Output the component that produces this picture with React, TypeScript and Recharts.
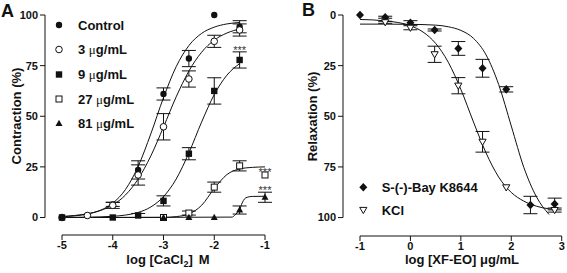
import React from 'react';
import { ComposedChart, Line, Scatter, XAxis, YAxis, ErrorBar, ReferenceLine } from 'recharts';

const FONT = '"Liberation Sans", Arial, Helvetica, sans-serif';
const INK = '#111';

// ---------- Panel A: contraction vs log [CaCl2] ----------
const doseA = [-5, -4.5, -4, -3.5, -3, -2.5, -2, -1.5];
const controlVals = [0, 1, 6.5, 23.5, 61, 78.5, 100, 94.2];
const controlErr = [null, null, 1, 4.5, 3, 4, null, 3];
const c3Vals = [0, 1, 6, 21, 44.8, 68.4, 87, 92.6];
const c3Err = [null, null, 1.5, 5, 6.5, 4, 3, 3];
const doseA9 = [-5, -4, -3.5, -3, -2.5, -2, -1.5];
const c9Vals = [0, 0, 1, 8.2, 31.5, 62.5, 77.8];
const c9Err = [null, null, 1, 2.5, 3, 6.5, 4];
const doseAHigh = [-3, -2.5, -2, -1.5, -1];
const c27Vals = [0, 2.2, 15, 25.5, 21];
const c27Err = [null, 1, 2.5, 2.5, null];
const c81Vals = [0, 0, 0, 3.7, 10];
const c81Err = [null, null, null, 2, 2.5];

// fitted curves
const fitXA = [-5, -4.75, -4.5, -4.25, -4, -3.75, -3.5, -3.25, -3, -2.75, -2.5, -2.25, -2, -1.75, -1.5];
const controlFit = [0.4, 0.8, 1.7, 3.5, 7.1, 13.8, 25.2, 41.3, 59.2, 74.5, 84.9, 90.9, 94, 95.6, 96.3];
const c3Fit = [0.5, 1, 1.85, 3.4, 6.2, 11.1, 19, 30.4, 44.7, 59.6, 72.3, 81.6, 87.6, 91.1, 93.1];
const c9Fit = [0.05, 0.1, 0.15, 0.3, 0.6, 1.2, 2.5, 5.2, 10.3, 19, 31.9, 47.1, 60.7, 70.3, 76];
const fitX27 = [-5, -3, -2.75, -2.5, -2.25, -2, -1.75, -1.5, -1.25, -1];
const c27Fit = [0, 0.05, 0.44, 1.75, 6, 14.3, 21.2, 24, 24.75, 25];
const fitX81 = [-5, -1.65, -1.6, -1.55, -1.5, -1.45, -1.4, -1.35, -1.25, -1];
const c81Fit = [0, 0.2, 1, 2.3, 3.9, 7.2, 9.3, 10, 10.4, 10.5];

const starXA = [-1.5, -1, -1];
const starYA = [84, 23.8, 14.9];

const ticksXA = [-5, -4, -3, -2, -1];
const ticksYA = [0, 25, 50, 75, 100];
const legendA = ['Control', '3 ', '9 ', '27 ', '81 '];

// ---------- Panel B: relaxation vs log [XF-EO] ----------
const bayX = [-1, -0.5, 0, 0.48, 0.95, 1.43, 1.9, 2.38, 2.86];
const bayVals = [0, 1.1, 3.8, 7.4, 16.5, 26.3, 36.7, 93.8, 93.3];
const bayErr = [null, 0.5, 1, 0.5, 3.4, 4.4, 1.3, 4.3, 2.9];
const kclX = [-0.5, 0, 0.48, 0.95, 1.43, 1.9, 2.86];
const kclVals = [3.6, 6.3, 19.4, 34.9, 62.6, 85.1, 96.3];
const kclErr = [0.5, 1, 4, 4, 5.1, null, 1];

const bayFitX = [-1, -0.5, 0, 0.5, 0.75, 1, 1.25, 1.5, 1.75, 2, 2.25, 2.5, 2.75];
const bayFit = [4.5, 4.5, 4.6, 5.0, 5.8, 7.6, 11.5, 19.7, 34.3, 54.8, 75.3, 89.8, 98.5];
const kclFitX = [-1, -0.5, 0, 0.25, 0.5, 0.75, 1, 1.25, 1.5, 1.75, 2, 2.25, 2.5, 2.75, 2.86];
const kclFit = [2.2, 2.9, 5.3, 8.4, 14, 23.3, 36.7, 52.8, 68.1, 80, 87.6, 91.9, 94.4, 95.7, 96];

const ticksXB = [-1, 0, 1, 2, 3];
const ticksYB = [0, 25, 50, 75, 100];
const legendB = ['S-(-)-Bay K8644', 'KCl'];

type Row = { x: number; y: number; e: number | null };
const rows = (xs: number[], ys: number[], es?: (number | null)[]): Row[] =>
  xs.map((x, i) => ({ x, y: ys[i], e: es ? es[i] : null }));

const Marker = ({ kind, cx, cy }: { kind: string; cx: number; cy: number }) => {
  switch (kind) {
    case 'circleFilled':
      return <circle cx={cx} cy={cy} r={3.2} fill={INK} />;
    case 'circleOpen':
      return <circle cx={cx} cy={cy} r={3.3} fill="#fff" stroke={INK} strokeWidth={1} />;
    case 'squareFilled':
      return <rect x={cx - 3.2} y={cy - 3.2} width={6.4} height={6.4} fill={INK} />;
    case 'squareOpen':
      return <rect x={cx - 3} y={cy - 3} width={6} height={6} fill="#fff" stroke={INK} strokeWidth={1} />;
    case 'triUp':
      return <polygon points={`${cx},${cy - 3.8} ${cx + 3.5},${cy + 2.6} ${cx - 3.5},${cy + 2.6}`} fill={INK} />;
    case 'diamond':
      return <polygon points={`${cx},${cy - 4.3} ${cx + 4},${cy} ${cx},${cy + 4.3} ${cx - 4},${cy}`} fill={INK} />;
    case 'triDown':
      return (
        <polygon
          points={`${cx - 3.6},${cy - 2.6} ${cx + 3.6},${cy - 2.6} ${cx},${cy + 3.6}`}
          fill="#fff"
          stroke={INK}
          strokeWidth={1}
        />
      );
    default:
      return null;
  }
};

const shape = (kind: string) => (p: any) => <Marker kind={kind} cx={p.cx} cy={p.cy} />;
const starShape = (p: any) => (
  <text x={p.cx} y={p.cy + 6.5} textAnchor="middle" fontSize={11} fill="#333" fontFamily={FONT}>
    ***
  </text>
);

const tickStyle = { fontSize: 11, fontWeight: 700, fill: INK, fontFamily: FONT };

const curve = (key: string, data: Row[]) => (
  <Line
    key={key}
    data={data}
    dataKey="y"
    type="monotone"
    dot={false}
    activeDot={false}
    stroke={INK}
    strokeWidth={1}
    isAnimationActive={false}
    legendType="none"
  />
);

const points = (key: string, data: Row[], kind: string) => (
  <Scatter key={key} data={data} dataKey="y" shape={shape(kind)} isAnimationActive={false} legendType="none">
    <ErrorBar dataKey="e" width={7} stroke={INK} strokeWidth={1} direction="y" isAnimationActive={false} />
  </Scatter>
);

// axis extents (value space) chosen so the offset axes sit where the reference draws them
const A_XMIN = -5.335;
const A_XMAX = -0.803;
const A_YMIN = -8.64;
const A_YMAX = 104.94;
const B_XMIN = -1.337;
const B_XMAX = 3.105;
const B_YMIN = -4.94;
const B_YMAX = 109.1;

const PanelA = () => (
  <ComposedChart width={280} height={273} margin={{ top: 5, right: 5, bottom: 0, left: 0 }}>
    <XAxis
      type="number"
      dataKey="x"
      domain={[A_XMIN, A_XMAX]}
      ticks={ticksXA}
      interval={0}
      allowDataOverflow
      axisLine={false}
      tickLine={{ stroke: INK }}
      tickSize={5}
      tickMargin={1}
      tick={tickStyle}
      height={38}
    />
    <YAxis
      type="number"
      dataKey="y"
      domain={[A_YMIN, A_YMAX]}
      ticks={ticksYA}
      interval={0}
      allowDataOverflow
      axisLine={false}
      tickLine={{ stroke: INK }}
      tickSize={5}
      tick={tickStyle}
      width={45}
    />
    <ReferenceLine segment={[{ x: A_XMIN, y: 0 }, { x: A_XMIN, y: 100 }]} stroke={INK} ifOverflow="visible" />
    <ReferenceLine segment={[{ x: -5, y: A_YMIN }, { x: -1, y: A_YMIN }]} stroke={INK} ifOverflow="visible" />
    {curve('fc', rows(fitXA, controlFit))}
    {curve('f3', rows(fitXA, c3Fit))}
    {curve('f9', rows(fitXA, c9Fit))}
    {curve('f27', rows(fitX27, c27Fit))}
    {curve('f81', rows(fitX81, c81Fit))}
    {points('pc', rows(doseA, controlVals, controlErr), 'circleFilled')}
    {points('p3', rows(doseA, c3Vals, c3Err), 'circleOpen')}
    {points('p9', rows(doseA9, c9Vals, c9Err), 'squareFilled')}
    {points('p27', rows(doseAHigh, c27Vals, c27Err), 'squareOpen')}
    {points('p81', rows(doseAHigh, c81Vals, c81Err), 'triUp')}
    <Scatter data={rows(starXA, starYA)} dataKey="y" shape={starShape} isAnimationActive={false} legendType="none" />
  </ComposedChart>
);

const PanelB = () => (
  <ComposedChart width={287} height={273} margin={{ top: 5, right: 0, bottom: 0, left: 0 }}>
    <XAxis
      type="number"
      dataKey="x"
      domain={[B_XMIN, B_XMAX]}
      ticks={ticksXB}
      interval={0}
      allowDataOverflow
      axisLine={false}
      tickLine={{ stroke: INK }}
      tickSize={5}
      tickMargin={1}
      tick={tickStyle}
      height={37}
    />
    <YAxis
      type="number"
      dataKey="y"
      domain={[B_YMIN, B_YMAX]}
      reversed
      ticks={ticksYB}
      interval={0}
      allowDataOverflow
      axisLine={false}
      tickLine={{ stroke: INK }}
      tickSize={5}
      tick={tickStyle}
      width={63}
    />
    <ReferenceLine segment={[{ x: B_XMIN, y: 0 }, { x: B_XMIN, y: 100 }]} stroke={INK} ifOverflow="visible" />
    <ReferenceLine segment={[{ x: -1, y: B_YMAX }, { x: 3, y: B_YMAX }]} stroke={INK} ifOverflow="visible" />
    {curve('fb', rows(bayFitX, bayFit))}
    {curve('fk', rows(kclFitX, kclFit))}
    {points('pb', rows(bayX, bayVals, bayErr), 'diamond')}
    {points('pk', rows(kclX, kclVals, kclErr), 'triDown')}
  </ComposedChart>
);

const legendAKinds = ['circleFilled', 'circleOpen', 'squareFilled', 'squareOpen', 'triUp'];
const legendAY = [25, 49.5, 74.5, 99, 123.5];
const legendBKinds = ['diamond', 'triDown'];
const legendBY = [187.3, 210];

const Overlay = () => (
  <svg
    width={567}
    height={273}
    style={{ position: 'absolute', left: 0, top: 0, pointerEvents: 'none' }}
    fontFamily={FONT}
    fontWeight={700}
    fill={INK}
  >
    <text x={1} y={17} fontSize={18}>A</text>
    <text x={302} y={16} fontSize={18}>B</text>

    <text transform="translate(21,116) rotate(-90)" textAnchor="middle" fontSize={13}>Contraction (%)</text>
    <text transform="translate(317,116.5) rotate(-90)" textAnchor="middle" fontSize={13}>Relaxation (%)</text>

    <text x={168} y={264} textAnchor="middle" fontSize={13}>
      <tspan>log [CaCl</tspan>
      <tspan fontSize={9} dy={3}>2</tspan>
      <tspan dy={-3}>]</tspan>
      <tspan dx={6}>M</tspan>
    </text>
    <text x={462} y={264} textAnchor="middle" fontSize={13}>log [XF-EO] μg/mL</text>

    {legendA.map((label, i) => (
      <g key={label}>
        <Marker kind={legendAKinds[i]} cx={59} cy={legendAY[i]} />
        <text x={78} y={legendAY[i] + 4.6} fontSize={13}>
          {label}
          {i > 0 && (
            <>
              <tspan fontFamily='"Liberation Serif", "DejaVu Serif", serif' fontWeight={400}>μ</tspan>
              <tspan>g/mL</tspan>
            </>
          )}
        </text>
      </g>
    ))}

    {legendB.map((label, i) => (
      <g key={label}>
        <Marker kind={legendBKinds[i]} cx={363.3} cy={legendBY[i]} />
        <text x={381.7} y={legendBY[i] + 4.6} fontSize={13}>{label}</text>
      </g>
    ))}
  </svg>
);

export default function App() {
  return (
    <div style={{ position: 'absolute', left: 0, top: 0, width: 567, height: 273, background: '#fff' }}>
      <div style={{ position: 'absolute', left: 0, top: 0 }}>
        <PanelA />
      </div>
      <div style={{ position: 'absolute', left: 280, top: 0 }}>
        <PanelB />
      </div>
      <Overlay />
    </div>
  );
}
